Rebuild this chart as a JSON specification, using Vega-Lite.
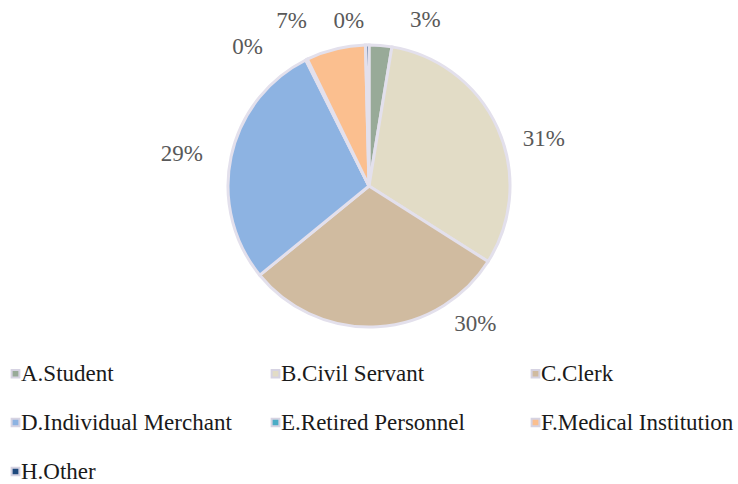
{
  "$schema": "https://vega.github.io/schema/vega-lite/v6.json",
  "width": 738,
  "height": 372,
  "padding": {"top": 0, "left": 0, "right": 0, "bottom": 112},
  "autosize": {"type": "none"},
  "background": "white",
  "config": {"view": {"stroke": null}},
  "data": {"values": [
    {"cat": "A.Student", "value": 2.6, "label": "3%", "order": 1},
    {"cat": "B.Civil Servant", "value": 31.4, "label": "31%", "order": 2},
    {"cat": "C.Clerk", "value": 30.1, "label": "30%", "order": 3},
    {"cat": "D.Individual Merchant", "value": 28.5, "label": "29%", "order": 4},
    {"cat": "E.Retired Personnel", "value": 0.2, "label": "0%", "order": 5},
    {"cat": "F.Medical Institution", "value": 6.8, "label": "7%", "order": 6},
    {"cat": "H.Other", "value": 0.4, "label": "0%", "order": 7}
  ]},
  "encoding": {
    "theta": {"field": "value", "type": "quantitative", "stack": true},
    "order": {"field": "order", "type": "quantitative"}
  },
  "layer": [
    {
      "mark": {"type": "arc", "outerRadius": 141, "stroke": "#e3e0ec", "strokeWidth": 3},
      "encoding": {
        "color": {
          "field": "cat", "type": "nominal",
          "sort": {"field": "order"},
          "scale": {
            "domain": ["A.Student", "B.Civil Servant", "C.Clerk", "D.Individual Merchant", "E.Retired Personnel", "F.Medical Institution", "H.Other"],
            "range": ["#98aa98", "#e2dcc6", "#d0bba0", "#8db3e2", "#4bacc6", "#fbbf8f", "#1f497d"]
          },
          "legend": {
            "title": null,
            "orient": "none",
            "legendX": 4,
            "legendY": 362,
            "direction": "horizontal",
            "columns": 3,
            "gridAlign": "all",
            "columnPadding": 32,
            "rowPadding": 25,
            "padding": 0,
            "symbolType": "square",
            "symbolSize": 60,
            "symbolStrokeColor": "#d6d3e2",
            "symbolStrokeWidth": 2,
            "labelFont": "Liberation Serif, Times New Roman, serif",
            "labelFontSize": 23,
            "labelColor": "#1a1a1a",
            "labelOffset": -6,
            "labelLimit": 400
          }
        }
      }
    },
    {
      "mark": {"type": "text", "radius": 175, "font": "Liberation Serif, Times New Roman, serif", "fontSize": 23, "color": "#595959", "dx": 42, "dy": 8},
      "encoding": {"detail": {"field": "cat"}, "text": {"condition": {"test": "datum.order === 1", "field": "label"}, "value": ""}}
    },
    {
      "mark": {"type": "text", "radius": 175, "font": "Liberation Serif, Times New Roman, serif", "fontSize": 23, "color": "#595959", "dx": 15, "dy": 25},
      "encoding": {"detail": {"field": "cat"}, "text": {"condition": {"test": "datum.order === 2", "field": "label"}, "value": ""}}
    },
    {
      "mark": {"type": "text", "radius": 175, "font": "Liberation Serif, Times New Roman, serif", "fontSize": 23, "color": "#595959", "dx": 96, "dy": -37},
      "encoding": {"detail": {"field": "cat"}, "text": {"condition": {"test": "datum.order === 3", "field": "label"}, "value": ""}}
    },
    {
      "mark": {"type": "text", "radius": 175, "font": "Liberation Serif, Times New Roman, serif", "fontSize": 23, "color": "#595959", "dx": -16, "dy": 5},
      "encoding": {"detail": {"field": "cat"}, "text": {"condition": {"test": "datum.order === 4", "field": "label"}, "value": ""}}
    },
    {
      "mark": {"type": "text", "radius": 175, "font": "Liberation Serif, Times New Roman, serif", "fontSize": 23, "color": "#595959", "dx": -44, "dy": 18},
      "encoding": {"detail": {"field": "cat"}, "text": {"condition": {"test": "datum.order === 5", "field": "label"}, "value": ""}}
    },
    {
      "mark": {"type": "text", "radius": 175, "font": "Liberation Serif, Times New Roman, serif", "fontSize": 23, "color": "#595959", "dx": -36, "dy": 5},
      "encoding": {"detail": {"field": "cat"}, "text": {"condition": {"test": "datum.order === 6", "field": "label"}, "value": ""}}
    },
    {
      "mark": {"type": "text", "radius": 175, "font": "Liberation Serif, Times New Roman, serif", "fontSize": 23, "color": "#595959", "dx": -18, "dy": 10},
      "encoding": {"detail": {"field": "cat"}, "text": {"condition": {"test": "datum.order === 7", "field": "label"}, "value": ""}}
    }
  ]
}
